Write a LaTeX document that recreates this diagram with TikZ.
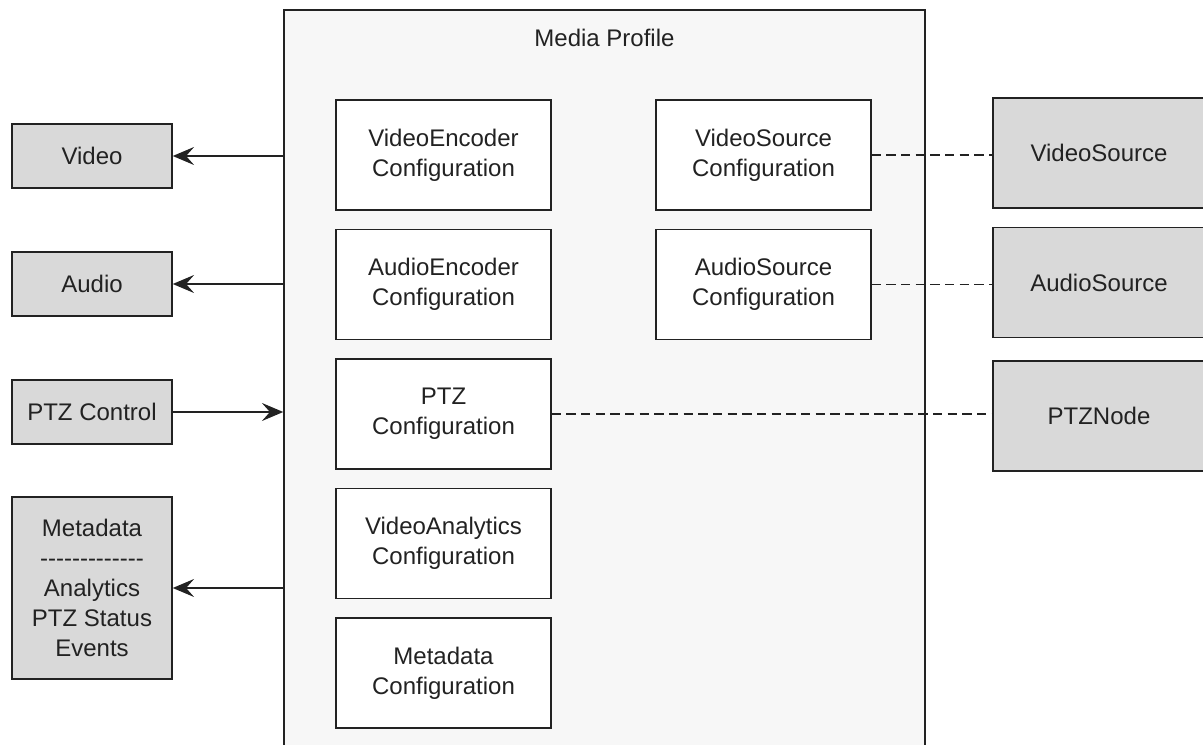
\documentclass[tikz,border=0pt]{standalone}
\usepackage{fontspec}
\setmainfont{Liberation Sans}
\usetikzlibrary{positioning,arrows.meta}

\definecolor{extgray}{HTML}{D9D9D9}
\definecolor{profilebg}{HTML}{F7F7F7}
\definecolor{inkgray}{HTML}{222222}

\tikzset{
  box/.style={draw=inkgray, line width=1.1pt, align=center, inner sep=0pt,
    text=inkgray, font=\fontsize{18pt}{22.5pt}\selectfont},
  cfg/.style={box, fill=white, minimum width=161.25pt, minimum height=82.5pt},
  ext/.style={box, fill=extgray, minimum width=120pt, minimum height=48pt},
  src/.style={box, fill=extgray, minimum width=159pt, minimum height=82.5pt},
  arr/.style={draw=inkgray, line width=1.1pt, -{Stealth[length=16pt, width=13.5pt, inset=6pt]}},
  link/.style={draw=inkgray, line width=1.1pt, dash pattern=on 7pt off 4pt},
}

\begin{document}
\begin{tikzpicture}[x=0.75pt, y=-0.75pt]

    \useasboundingbox (0,0) rectangle (1203,745);

    % Define nodes

    \node[box, fill=profilebg, minimum width=480.75pt, minimum height=562.5pt]
                                                  (profile) at (604.5,385) {}; %
    \node[text=inkgray, font=\fontsize{18pt}{22.5pt}\selectfont]
                                                  (title) at (604.5,38) {Media Profile}; %

    % configurations
    \node[cfg] at (443.5,155)                     (venc) {VideoEncoder\\Configuration}; %
    \node[cfg, below=13.5pt of venc]              (aenc) {AudioEncoder\\Configuration}; %
    \node[cfg, below=13.5pt of aenc]              (ptzc) {PTZ\\Configuration}; %
    \node[cfg, below=13.5pt of ptzc]              (vac)  {VideoAnalytics\\Configuration}; %
    \node[cfg, below=13.5pt of vac]               (metc) {Metadata\\Configuration}; %
    \node[cfg] at (763.5,155)                     (vsc)  {VideoSource\\Configuration}; %
    \node[cfg, below=13.5pt of vsc]               (asc)  {AudioSource\\Configuration}; %

    % outputs
    \node[ext] at (92,156)                        (video) {Video}; %
    \node[ext] at (92,284)                        (audio) {Audio}; %
    \node[ext] at (92,412)                        (ptzctl) {PTZ Control}; %
    \node[ext, minimum height=136.5pt] at (92,588) (meta)
      {Metadata\\-{}-{}-{}-{}-{}-{}-{}-{}-{}-{}-{}-{}-\\Analytics\\PTZ Status\\Events}; %

    % sources
    \node[src] at (1099,153)                      (vidsrc) {VideoSource}; %
    \node[src, below=13.5pt of vidsrc]            (audsrc) {AudioSource}; %
    \node[src, below=16.5pt of audsrc]            (ptznode) {PTZNode}; %

    % Connect the nodes
    \draw[arr] (video.east -| profile.west) -- (video.east);
    \draw[arr] (audio.east -| profile.west) -- (audio.east);
    \draw[arr] (ptzctl.east) -- (ptzctl.east -| profile.west);
    \draw[arr] (meta.east -| profile.west) -- (meta.east);

    \draw[link] (vsc.east) -- (vsc.east -| vidsrc.west);
    \draw[link] (asc.east) -- (asc.east -| audsrc.west);
    \draw[link] (ptzc.east) -- (ptzc.east -| ptznode.west);

\end{tikzpicture}
\end{document}
